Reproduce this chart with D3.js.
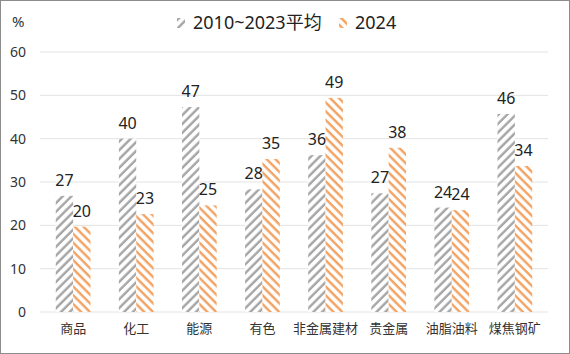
<!DOCTYPE html>
<html>
<head>
<meta charset="utf-8">
<script src="https://cdn.jsdelivr.net/npm/d3@7"></script>
<style>
  body { margin: 0; background: #fff; }
  svg { display: block; font-family: "Noto Sans", "Noto Sans CJK SC", sans-serif; }
</style>
</head>
<body>
<div id="chart"></div>
<script>
const categories = ["商品", "化工", "能源", "有色", "非金属建材", "贵金属", "油脂油料", "煤焦钢矿"];
const seriesNames = ["2010~2023平均", "2024"];
const avgValues = [26.8, 40.0, 47.3, 28.3, 36.2, 27.4, 24.1, 45.7];
const y2024Values = [19.7, 22.6, 24.6, 35.3, 49.4, 37.9, 23.5, 33.7];
const yTicks = [0, 10, 20, 30, 40, 50, 60];

const width = 570, height = 354;
const margin = {top: 52, right: 22, bottom: 42, left: 40};
const innerW = width - margin.left - margin.right;
const innerH = height - margin.top - margin.bottom;

const colors = ["#a5a5a5", "#f4a261"];

const svg = d3.select("#chart").append("svg")
    .attr("width", width)
    .attr("height", height);

// hatch patterns
const defs = svg.append("defs");
const patAngles = [45, -45];
colors.forEach((c, i) => {
    const p = defs.append("pattern")
        .attr("id", "hatch" + i)
        .attr("patternUnits", "userSpaceOnUse")
        .attr("width", 6.2)
        .attr("height", 6.2)
        .attr("patternTransform", "rotate(" + patAngles[i] + ")");
    p.append("rect").attr("width", 6.2).attr("height", 6.2).attr("fill", "#fff");
    p.append("line")
        .attr("x1", 1.5).attr("x2", 1.5)
        .attr("y1", 0).attr("y2", 6.2)
        .attr("stroke", c)
        .attr("stroke-width", 2.4);
});

// border
svg.append("rect")
    .attr("x", 0.5).attr("y", 0.5)
    .attr("width", width - 1).attr("height", height - 1)
    .attr("fill", "none")
    .attr("stroke", "#8c8c8c");

const g = svg.append("g")
    .attr("transform", "translate(" + margin.left + "," + margin.top + ")");

const x0 = d3.scaleBand()
    .domain(categories)
    .range([0, innerW])
    .paddingInner(0.45)
    .paddingOuter(0.25);

const x1 = d3.scaleBand()
    .domain([0, 1])
    .range([0, x0.bandwidth()]);

const y = d3.scaleLinear()
    .domain([0, 60])
    .range([innerH, 0]);

// grid lines
g.append("g")
    .selectAll("line")
    .data(yTicks)
    .enter()
    .append("line")
    .attr("x1", 0)
    .attr("x2", innerW)
    .attr("y1", d => y(d))
    .attr("y2", d => y(d))
    .attr("stroke", "#e3e3e3")
    .attr("stroke-width", 1);

// y axis labels
const yAxis = g.append("g")
    .call(d3.axisLeft(y).tickValues(yTicks).tickSize(0).tickPadding(14));
yAxis.select(".domain").remove();
yAxis.selectAll("text")
    .attr("font-size", 14)
    .attr("fill", "#333")
    .attr("font-family", "Noto Sans, sans-serif");

// x axis labels
const xAxis = g.append("g")
    .attr("transform", "translate(0," + innerH + ")")
    .call(d3.axisBottom(x0).tickSize(0).tickPadding(12));
xAxis.select(".domain").remove();
xAxis.selectAll("text")
    .attr("font-size", 13)
    .attr("fill", "#333")
    .attr("font-family", "Noto Sans CJK SC, sans-serif");

// bars
const rows = categories.map((c, i) => ({cat: c, vals: [avgValues[i], y2024Values[i]]}));

const groups = g.selectAll(".cat")
    .data(rows)
    .enter()
    .append("g")
    .attr("class", "cat")
    .attr("transform", d => "translate(" + x0(d.cat) + ",0)");

groups.selectAll("rect")
    .data(d => d.vals.map((v, k) => ({k, v})))
    .enter()
    .append("rect")
    .attr("x", d => x1(d.k))
    .attr("width", x1.bandwidth())
    .attr("y", d => y(d.v))
    .attr("height", d => innerH - y(d.v))
    .attr("fill", d => "url(#hatch" + d.k + ")");

groups.selectAll("text")
    .data(d => d.vals.map((v, k) => ({k, v})))
    .enter()
    .append("text")
    .attr("x", d => x1(d.k) + x1.bandwidth() / 2)
    .attr("y", d => y(d.v) - 10)
    .attr("text-anchor", "middle")
    .attr("font-size", 16)
    .attr("fill", "#222")
    .text(d => Math.round(d.v));

// unit label
svg.append("text")
    .attr("x", 12)
    .attr("y", 27)
    .attr("font-size", 15)
    .attr("fill", "#333")
    .text("%");

// legend
const legendX = [177, 339];
const legend = svg.append("g");
seriesNames.forEach((name, i) => {
    const lg = legend.append("g")
        .attr("transform", "translate(" + legendX[i] + ",18)");
    lg.append("rect")
        .attr("width", 8)
        .attr("height", 10)
        .attr("fill", "url(#hatch" + i + ")");
    lg.append("text")
        .attr("x", 16)
        .attr("y", 11)
        .attr("font-size", 18)
        .attr("fill", "#222")
        .attr("font-family", "Noto Sans, Noto Sans CJK SC, sans-serif")
        .text(name);
});
</script>
</body>
</html>
